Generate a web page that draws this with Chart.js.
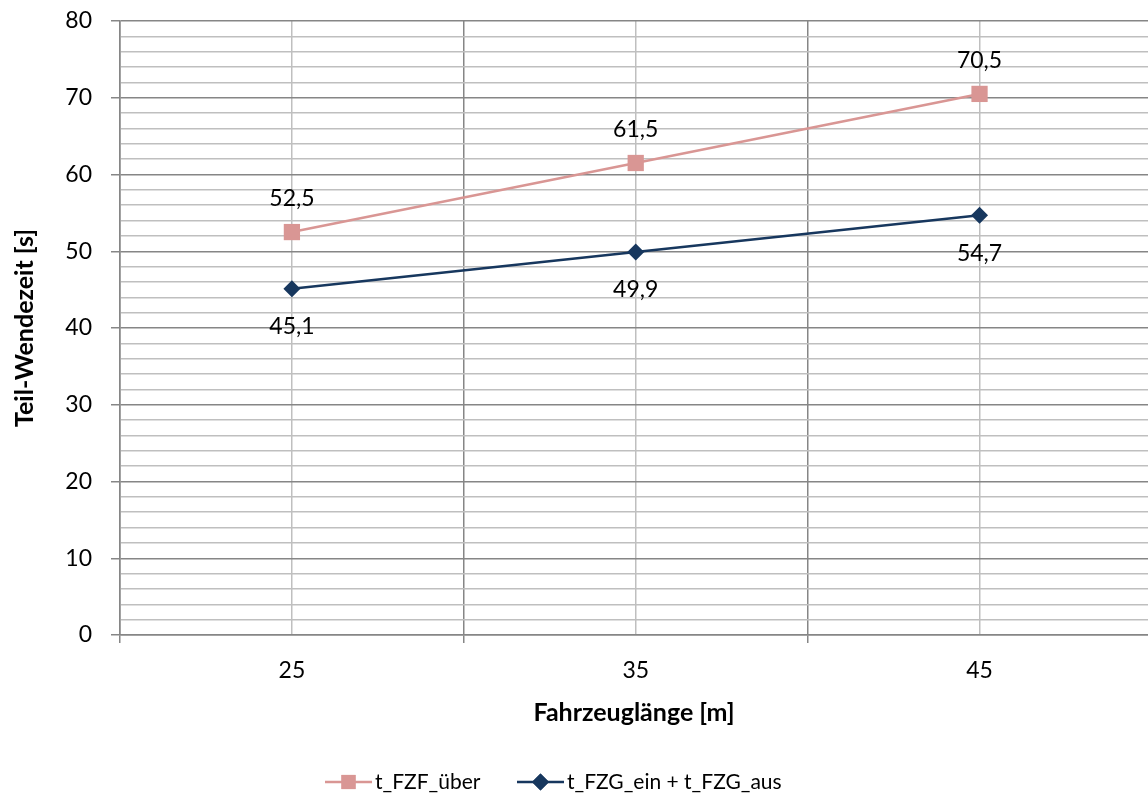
<!DOCTYPE html>
<html>
<head>
<meta charset="utf-8">
<script src="https://cdn.jsdelivr.net/npm/chart.js@4.4.1/dist/chart.umd.min.js"></script>
<style>
  html, body { margin: 0; padding: 0; background: #ffffff; }
  #wrap { width: 1148px; height: 796px; position: relative; }
</style>
</head>
<body>
<div id="wrap"><canvas id="c"></canvas></div>
<script>
// Vehicle lengths [m] and partial turnaround times [s]
const lengths = [25, 35, 45];
const tFzfUeber = [52.5, 61.5, 70.5];
const tFzgEinAus = [45.1, 49.9, 54.7];
const xTicks = [20, 25, 30, 35, 40, 45, 50];
const xLabelled = [25, 35, 45];
const seriesNames = ['t_FZF_über', 't_FZG_ein + t_FZG_aus'];

const FONT = 'Lato, "Open Sans", sans-serif';
const PINK = '#D99694';
const NAVY = '#17375E';
const GRID_MAJOR = '#868686';
const GRID_MINOR = '#BFBFBF';

const fmt = v => v.toFixed(1).replace('.', ',');

// value labels: pink above the marker, navy below
const valueLabels = {
  id: 'valueLabels',
  afterDatasetsDraw(chart) {
    const ctx = chart.ctx;
    ctx.save();
    ctx.font = '23px ' + FONT;
    ctx.fillStyle = '#000';
    ctx.textAlign = 'center';
    ctx.textBaseline = 'middle';
    chart.data.datasets.forEach((ds, i) => {
      const meta = chart.getDatasetMeta(i);
      meta.data.forEach((pt, j) => {
        const dy = i === 0 ? -33 : 38;
        ctx.fillText(fmt(ds.data[j].y), pt.x, pt.y + dy);
      });
    });
    ctx.restore();
  }
};

// legend: short line with the series marker, then the name
const lineLegend = {
  id: 'lineLegend',
  afterDraw(chart) {
    const ctx = chart.ctx;
    const y = 782;
    const items = [
      { x: 325, color: PINK, style: 'rect', r: 10, text: seriesNames[0] },
      { x: 517, color: NAVY, style: 'rectRot', r: 8.5, text: seriesNames[1] }
    ];
    ctx.save();
    items.forEach(it => {
      ctx.strokeStyle = it.color;
      ctx.lineWidth = 2.5;
      ctx.beginPath();
      ctx.moveTo(it.x, y);
      ctx.lineTo(it.x + 47, y);
      ctx.stroke();
      ctx.fillStyle = it.color;
      Chart.helpers.drawPoint(ctx, { pointStyle: it.style, radius: it.r, borderWidth: 0 }, it.x + 23.5, y);
      ctx.fill();
      ctx.fillStyle = '#000';
      ctx.font = '21px ' + FONT;
      ctx.textAlign = 'left';
      ctx.textBaseline = 'middle';
      ctx.fillText(it.text, it.x + 50, y);
    });
    ctx.restore();
  }
};

new Chart(document.getElementById('c'), {
  type: 'line',
  data: {
    datasets: [
      {
        label: seriesNames[0],
        data: lengths.map((x, i) => ({ x, y: tFzfUeber[i] })),
        borderColor: PINK,
        backgroundColor: PINK,
        borderWidth: 2.5,
        pointStyle: 'rect',
        pointRadius: 11.5,
        pointBorderWidth: 0,
        pointBackgroundColor: PINK
      },
      {
        label: seriesNames[1],
        data: lengths.map((x, i) => ({ x, y: tFzgEinAus[i] })),
        borderColor: NAVY,
        backgroundColor: NAVY,
        borderWidth: 2.5,
        pointStyle: 'rectRot',
        pointRadius: 8.5,
        pointBorderWidth: 0,
        pointBackgroundColor: NAVY
      }
    ]
  },
  options: {
    responsive: true,
    maintainAspectRatio: false,
    animation: false,
    events: [],
    layout: { autoPadding: false, padding: { left: 0, right: 0, top: 21, bottom: 0 } },
    plugins: {
      legend: { display: false },
      tooltip: { enabled: false }
    },
    scales: {
      x: {
        type: 'linear',
        min: 20,
        max: 49.9,
        afterBuildTicks: s => { s.ticks = xTicks.map(v => ({ value: v })); },
        afterFit: s => { s.paddingLeft = 0; s.paddingRight = 0; s.height = 161; },
        grid: {
          color: c => (c.tick && c.tick.value % 10 === 0) ? GRID_MAJOR : GRID_MINOR,
          tickColor: c => (c.tick && c.tick.value % 10 === 0) ? GRID_MAJOR : 'rgba(0,0,0,0)',
          lineWidth: 1.5,
          tickLength: 8,
          drawTicks: true
        },
        border: { color: GRID_MAJOR, width: 1.5 },
        ticks: {
          autoSkip: false,
          maxRotation: 0,
          padding: 14,
          color: '#000',
          font: { family: FONT, size: 23 },
          callback: v => xLabelled.includes(v) ? String(v) : ''
        },
        title: {
          display: true,
          text: 'Fahrzeuglänge [m]',
          color: '#000',
          font: { family: FONT, size: 25, weight: 'bold' },
          padding: { top: 0, bottom: 68 }
        }
      },
      y: {
        min: 0,
        max: 80,
        afterFit: s => { s.paddingTop = 0; s.paddingBottom = 0; s.width = 120; },
        ticks: {
          stepSize: 2,
          autoSkip: false,
          padding: 19,
          color: '#000',
          font: { family: FONT, size: 23 },
          callback: v => v % 10 === 0 ? String(v) : ''
        },
        grid: {
          color: c => (c.tick && c.tick.value % 10 === 0) ? GRID_MAJOR : GRID_MINOR,
          tickColor: c => (c.tick && c.tick.value % 10 === 0) ? GRID_MAJOR : 'rgba(0,0,0,0)',
          lineWidth: 1.5,
          tickLength: 9
        },
        border: { color: GRID_MAJOR, width: 1.5 },
        title: {
          display: true,
          text: 'Teil-Wendezeit [s]',
          color: '#000',
          font: { family: FONT, size: 25, weight: 'bold' },
          padding: { top: 10, bottom: 0 }
        }
      }
    }
  },
  plugins: [valueLabels, lineLegend]
});
</script>
</body>
</html>
